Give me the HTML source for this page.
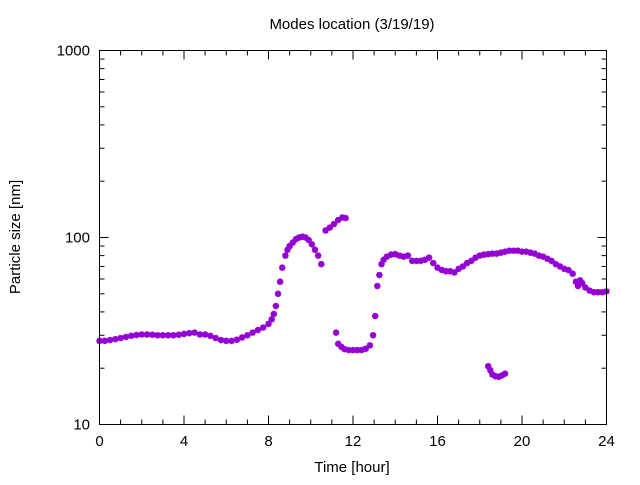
<!DOCTYPE html>
<html><head><meta charset="utf-8"><style>
body{margin:0;background:#fff}
svg text{font-family:"Liberation Sans","DejaVu Sans",sans-serif;font-size:15px;fill:#000}
</style></head><body>
<svg id="chart" width="640" height="480" viewBox="0 0 640 480" xmlns="http://www.w3.org/2000/svg">
<rect width="640" height="480" fill="#fff"/>
<text x="352" y="29" text-anchor="middle">Modes location (3/19/19)</text>
<text x="352" y="472" text-anchor="middle">Time [hour]</text>
<text transform="translate(20,237) rotate(-90)" text-anchor="middle">Particle size [nm]</text>
<g id="axes"></g>
<g id="marks"></g>
<rect x="99.5" y="50.5" width="507" height="374" fill="none" stroke="#000" stroke-width="1"/>
</svg>
<script>
const xTicks=[0,4,8,12,16,20,24];
const yTicks=[10,100,1000];
const seg1T=[0,0.25,0.5,0.75,1,1.25,1.5,1.75,2,2.25,2.5,2.75,3,3.25,3.5,3.75,4,4.25,4.5,4.75,5,5.25,5.5,5.75,6,6.25,6.5,6.75,7,7.25,7.5,7.75,8,8.15,8.25,8.35,8.45,8.55,8.65,8.8,8.9,9,9.15,9.3,9.45,9.6,9.75,9.9,10.05,10.2,10.35,10.5];
const seg1V=[28,28,28.3,28.6,29,29.4,29.8,30.1,30.3,30.3,30.2,30,30,30,30,30.2,30.5,30.8,31,30.3,30.3,29.8,29,28.3,28,28,28.4,29.2,30,31,32,33,34.5,36.5,39,43,50,58,69,80,86,90,94,98,100,101,100,97,92,86,80,72];
const seg2T=[10.7,10.9,11.1,11.3,11.5,11.65];
const seg2V=[109,113,118,124,128,127];
const seg3T=[11.2,11.3,11.45,11.6,11.8,12,12.2,12.4,12.6,12.8,12.95,13.05,13.15,13.25,13.35,13.45,13.6,13.8,14,14.2,14.4,14.6,14.8,15,15.2,15.4,15.6,15.8,16,16.2,16.4,16.6,16.8,17,17.2,17.4,17.6,17.8,18,18.2,18.4,18.6,18.8,19,19.2,19.4,19.6,19.8,20,20.2,20.4,20.6,20.8,21,21.2,21.4,21.6,21.8,22,22.2,22.4,22.55,22.65,22.75,22.85,23,23.2,23.4,23.6,23.8,24];
const seg3V=[31,27,26,25.3,25,25,25,25,25.4,26.5,30,38,55,63,72,76,79,81,81.5,80,79,80,75,75,75,76,78,73,69,67,66,66,65,68,70,73,75,78,80,81,81.5,82,82,83,84,85,85,85,84,84,83,82,80,79,77,75,72,70,68,67,64,58,55,59,57,54,52,51,51,51,51.5];
const seg4T=[18.4,18.5,18.6,18.75,18.9,19.05,19.2];
const seg4V=[20.5,19.5,18.5,18.1,18,18.3,18.7];

const X0=99.5,X1=606.5,Y0=424.5,Y1=50.5;
function xs(t){return X0+(t-0)/(24-0)*(X1-X0);}
function ys(v){return Y0-(Math.log10(v)-1)/2*(Y0-Y1);}
const NS="http://www.w3.org/2000/svg";
const axes=document.getElementById('axes');
function ln(x1,y1,x2,y2,name){const l=document.createElementNS(NS,'line');
l.setAttribute('x1',x1);l.setAttribute('y1',y1);l.setAttribute('x2',x2);l.setAttribute('y2',y2);
l.setAttribute('stroke','#000');


axes.appendChild(l);}
function tx(x,y,s,anchor,name){const t=document.createElementNS(NS,'text');
t.setAttribute('x',x);t.setAttribute('y',y);t.setAttribute('text-anchor',anchor);t.textContent=s;


axes.appendChild(t);}
for(let h=0;h<=24;h++){const x=xs(h);const major=h%4===0;const L=major?9:5;
ln(x,Y0,x,Y0-L,'x-tick');ln(x,Y1,x,Y1+L,'x-tick-top');}
xTicks.forEach(h=>tx(xs(h),446,String(h),'middle','x-tick-label'));
for(let d=1;d<=100;d*=10){for(let k=1;k<=9;k++){const v=10*d*k;if(v>1000)break;const y=ys(v);const L=k===1?9:5;
ln(X0,y,X0+L,y,'y-tick');ln(X1,y,X1-L,y,'y-tick-right');}}
yTicks.forEach(v=>tx(90,ys(v)+5,String(v),'end','y-tick-label'));
const marks=document.getElementById('marks');
function star(t,v){const g=document.createElementNS(NS,'g');


const x=xs(t),y=ys(v);const r=3.2;
const d=`M${x-r} ${y}H${x+r}M${x} ${y-r}V${y+r}M${x-2.3} ${y-2.3}L${x+2.3} ${y+2.3}M${x-2.3} ${y+2.3}L${x+2.3} ${y-2.3}`;
const p=document.createElementNS(NS,'path');p.setAttribute('d',d);p.setAttribute('stroke','#9400d3');p.setAttribute('stroke-width','2');
g.appendChild(p);
const c=document.createElementNS(NS,'circle');c.setAttribute('cx',x);c.setAttribute('cy',y);c.setAttribute('r','2');c.setAttribute('fill','#9400d3');g.appendChild(c);
marks.appendChild(g);}
[[seg1T,seg1V],[seg2T,seg2V],[seg3T,seg3V],[seg4T,seg4V]].forEach(([T,V])=>T.forEach((t,i)=>star(t,V[i])));
</script>
</body></html>
